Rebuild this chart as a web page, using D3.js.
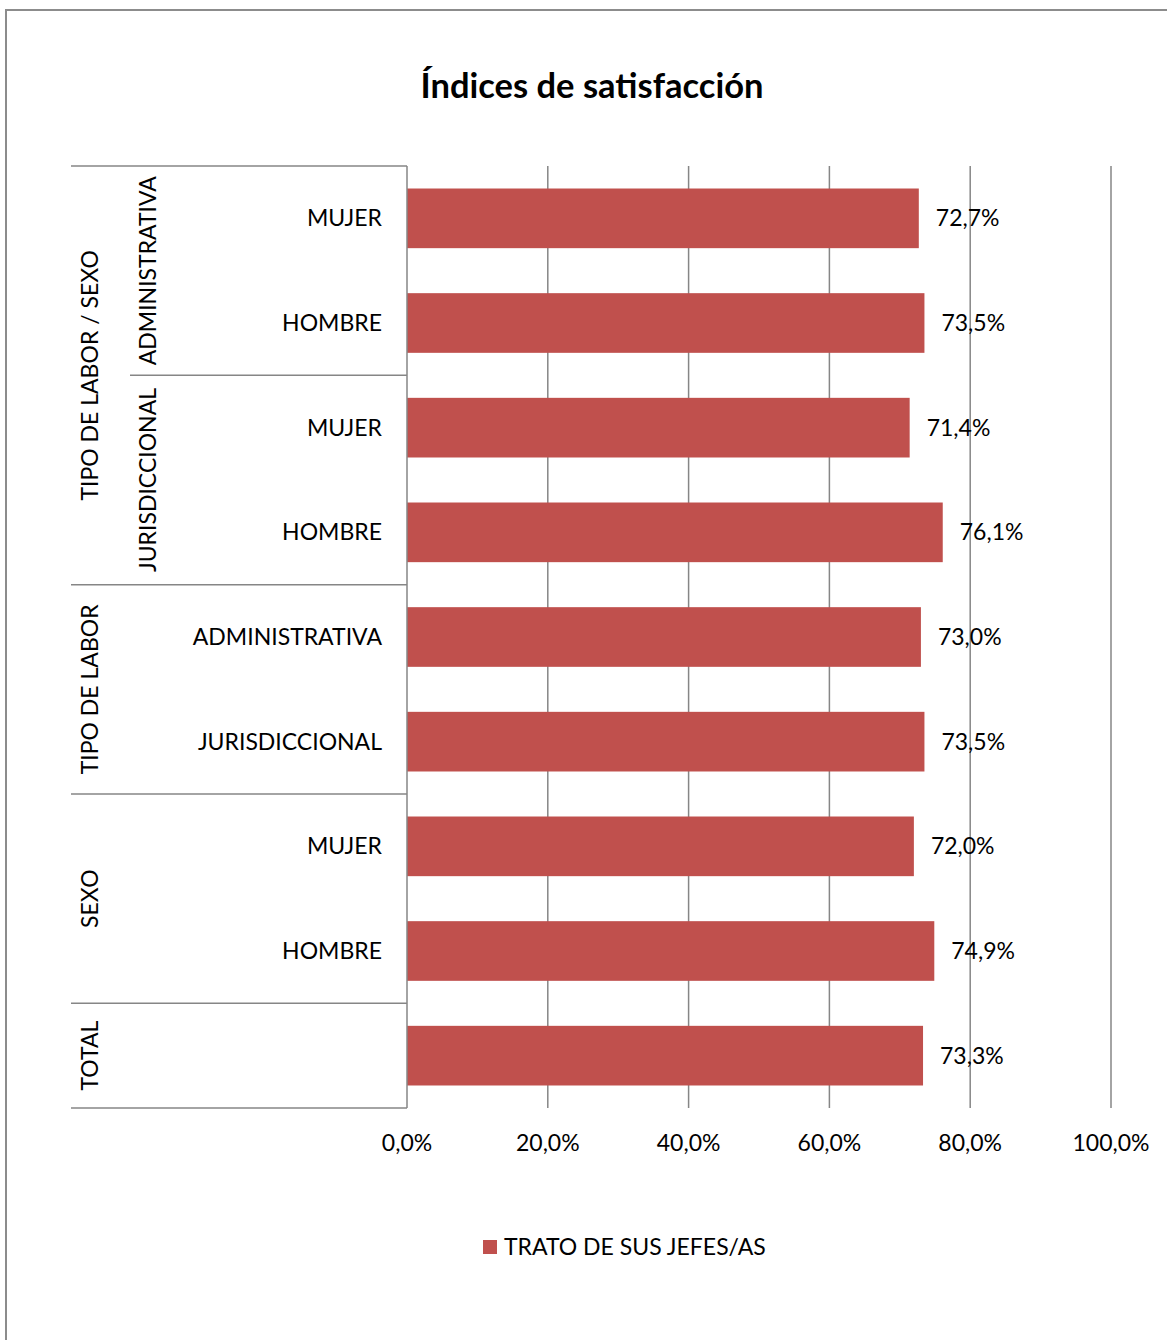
<!DOCTYPE html>
<html>
<head>
<meta charset="utf-8">
<script src="https://cdn.jsdelivr.net/npm/d3@7"></script>
<style>
  html, body { margin: 0; padding: 0; background: #fff; }
  svg { display: block; }
  text { font-family: Lato, "Open Sans", sans-serif; fill: #000; }
</style>
</head>
<body>
<svg id="chart" width="1167" height="1340"></svg>
<script>
const title = "Índices de satisfacción";
const seriesName = "TRATO DE SUS JEFES/AS";
const level1 = ["MUJER", "HOMBRE", "MUJER", "HOMBRE", "ADMINISTRATIVA", "JURISDICCIONAL", "MUJER", "HOMBRE", ""];
const level2 = ["ADMINISTRATIVA", "ADMINISTRATIVA", "JURISDICCIONAL", "JURISDICCIONAL", "", "", "", "", ""];
const level3 = ["TIPO DE LABOR / SEXO", "TIPO DE LABOR / SEXO", "TIPO DE LABOR / SEXO", "TIPO DE LABOR / SEXO",
                "TIPO DE LABOR", "TIPO DE LABOR", "SEXO", "SEXO", "TOTAL"];
const values = [72.7, 73.5, 71.4, 76.1, 73.0, 73.5, 72.0, 74.9, 73.3];
const ticks = [0, 20, 40, 60, 80, 100];

const barColor = "#C0504D";
const gridColor = "#868686";
const fs = 23;
const fmt = v => v.toFixed(1).replace(".", ",") + "%";

const svg = d3.select("#chart");

// outer frame
svg.append("rect").attr("x", 6).attr("y", 10).attr("width", 1170).attr("height", 1340)
  .attr("fill", "none").attr("stroke", "#8c8c8c").attr("stroke-width", 2);

svg.append("text").attr("x", 592).attr("y", 98).attr("text-anchor", "middle")
  .attr("font-size", 34.5).attr("font-weight", "bold").text(title);

const pLeft = 407, pRight = 1111, pTop = 166, pBottom = 1108;
const x = d3.scaleLinear().domain([0, 100]).range([pLeft, pRight]);
const idx = d3.range(values.length);
const y = d3.scaleBand().domain(idx).range([pTop, pBottom]).paddingInner(0.43).paddingOuter(0.215);
const step = y.step();
const bY = i => pTop + i * step;

// gridlines
svg.append("g").selectAll("line").data(ticks.slice(1)).join("line")
  .attr("x1", d => x(d)).attr("x2", d => x(d)).attr("y1", pTop).attr("y2", pBottom)
  .attr("stroke", gridColor).attr("stroke-width", 1.5);

// bars
svg.append("g").selectAll("rect").data(values).join("rect")
  .attr("x", x(0)).attr("y", (d, i) => y(i))
  .attr("width", d => x(d) - x(0)).attr("height", y.bandwidth())
  .attr("fill", barColor);

// data labels
svg.append("g").selectAll("text").data(values).join("text")
  .attr("x", d => x(d) + 17).attr("y", (d, i) => y(i) + y.bandwidth() / 2)
  .attr("dy", "0.35em").attr("font-size", fs).text(d => fmt(d));

// x tick labels
svg.append("g").selectAll("text").data(ticks).join("text")
  .attr("x", d => x(d)).attr("y", 1143).attr("dy", "0.35em")
  .attr("text-anchor", "middle").attr("font-size", fs).text(d => fmt(d));

// category axis lines
const cat = svg.append("g").attr("stroke", gridColor).attr("stroke-width", 1.5);
cat.append("line").attr("x1", pLeft).attr("x2", pLeft).attr("y1", pTop).attr("y2", pBottom);

function groups(arr) {
  const out = [];
  arr.forEach((lab, i) => {
    if (!out.length || out[out.length - 1].label !== lab || lab === "") out.push({label: lab, start: i, end: i + 1});
    else out[out.length - 1].end = i + 1;
  });
  return out;
}
const g3 = groups(level3);
const g2 = groups(level2).filter(g => g.label !== "");
const b3 = [0, ...g3.map(g => g.end)];
cat.selectAll(".b3").data(b3).join("line").attr("class", "b3")
  .attr("x1", 71).attr("x2", pLeft).attr("y1", d => bY(d)).attr("y2", d => bY(d));
const b2 = g2.map(g => g.end).filter(e => !b3.includes(e));
cat.selectAll(".b2").data(b2).join("line").attr("class", "b2")
  .attr("x1", 130).attr("x2", pLeft).attr("y1", d => bY(d)).attr("y2", d => bY(d));

// level-1 labels
svg.append("g").selectAll("text").data(level1).join("text")
  .attr("x", 382).attr("y", (d, i) => y(i) + y.bandwidth() / 2).attr("dy", "0.35em")
  .attr("text-anchor", "end").attr("font-size", fs).text(d => d);

// level-2 labels (rotated)
svg.append("g").selectAll("text").data(g2).join("text")
  .attr("transform", d => `translate(148,${(bY(d.start) + bY(d.end)) / 2}) rotate(-90)`)
  .attr("dy", "0.35em").attr("text-anchor", "middle").attr("font-size", fs).text(d => d.label);

// level-3 labels (rotated)
svg.append("g").selectAll("text").data(g3).join("text")
  .attr("transform", d => `translate(90,${(bY(d.start) + bY(d.end)) / 2}) rotate(-90)`)
  .attr("dy", "0.35em").attr("text-anchor", "middle").attr("font-size", fs).text(d => d.label);

// legend
const lg = svg.append("g");
lg.append("rect").attr("x", 483).attr("y", 1240).attr("width", 14).attr("height", 14).attr("fill", barColor);
lg.append("text").attr("x", 504).attr("y", 1247).attr("dy", "0.35em").attr("font-size", fs).text(seriesName);
</script>
</body>
</html>
